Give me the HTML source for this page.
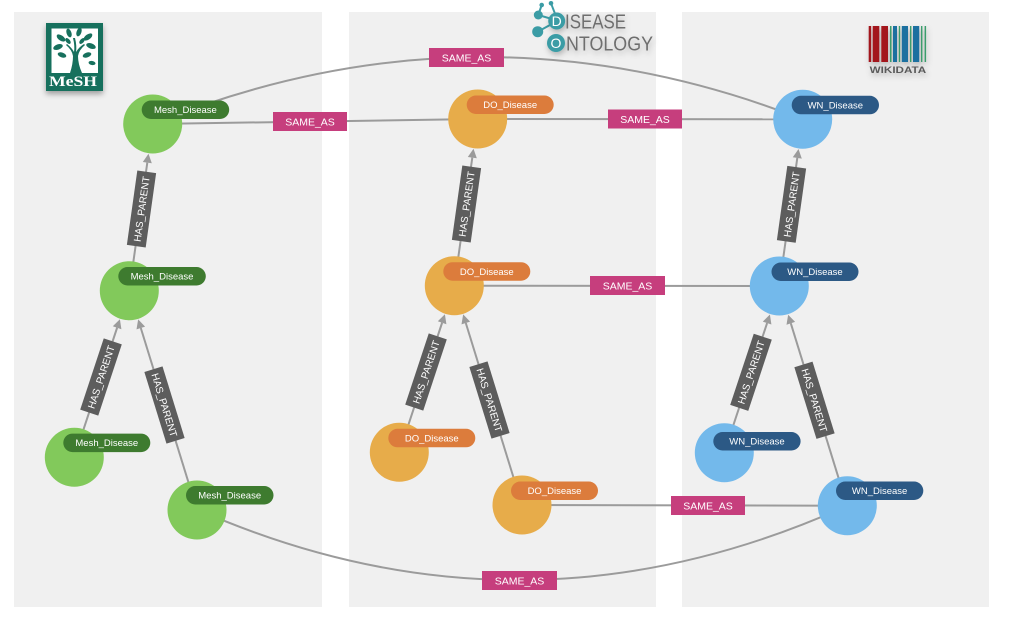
<!DOCTYPE html>
<html><head><meta charset="utf-8"><style>
html,body{margin:0;padding:0;background:#fff;}
svg{display:block;}
text{font-family:"Liberation Sans",sans-serif;}
text.serif{font-family:"Liberation Serif",serif;}
</style></head><body>
<svg width="1023" height="623" viewBox="0 0 1023 623" xmlns="http://www.w3.org/2000/svg">
<defs>
<filter id="sh" x="-30%" y="-30%" width="160%" height="170%"><feDropShadow dx="0" dy="3" stdDeviation="3" flood-color="#000" flood-opacity="0.35"/></filter>
<filter id="sh2" x="-30%" y="-30%" width="160%" height="170%"><feDropShadow dx="1" dy="3" stdDeviation="3" flood-color="#000" flood-opacity="0.25"/></filter>
</defs>
<rect width="1023" height="623" fill="#fff"/>
<!-- panels -->
<rect x="14" y="12" width="308" height="595" fill="#f0f0f0"/>
<rect x="349" y="12" width="307" height="595" fill="#f0f0f0"/>
<rect x="682" y="12" width="307" height="595" fill="#f0f0f0"/>

<!-- SAME_AS edges -->
<g stroke="#9b9b9b" stroke-width="2" fill="none">
<line x1="152.7" y1="124" x2="477.7" y2="119"/>
<line x1="477.7" y1="119" x2="802.7" y2="119.3"/>
<line x1="454.3" y1="285.7" x2="779.3" y2="286"/>
<line x1="522" y1="505" x2="847.3" y2="505.7"/>
<path d="M152.7,124 Q478,-7.5 802.7,119.3"/>
<path d="M197,509.3 Q522,652.5 847.3,505.7"/>
</g>
<g fill="#c63e7d">
<rect x="273" y="112" width="74" height="19"/>
<rect x="608" y="109.5" width="74" height="19"/>
<rect x="590" y="276" width="75" height="19"/>
<rect x="671" y="496" width="74" height="19"/>
<rect x="429" y="48" width="75" height="19"/>
<rect x="482" y="571" width="75" height="19"/>
</g>
<g fill="#fff" font-size="10.5" text-anchor="middle">
<text x="310" y="125.3">SAME_AS</text>
<text x="645" y="122.8">SAME_AS</text>
<text x="627.5" y="289.3">SAME_AS</text>
<text x="708" y="509.3">SAME_AS</text>
<text x="466.5" y="61.3">SAME_AS</text>
<text x="519.5" y="584.3">SAME_AS</text>
</g>

<!-- middle column edges -->
<g>
<g stroke="#9b9b9b" stroke-width="2">
<line x1="454.3" y1="285.7" x2="472.3" y2="157.6"/>
<line x1="399.3" y1="452.3" x2="442.1" y2="322.75"/>
<line x1="522" y1="505" x2="465.8" y2="323.0"/>
</g>
<g fill="#9b9b9b">
<polygon points="473.5,148.7 476.8,158.3 467.8,157.0"/>
<polygon points="444.9,314.2 446.4,324.2 437.8,321.3"/>
<polygon points="463.15,314.4 470.1,321.6 461.5,324.4"/>
</g>
<g transform="translate(466.5,204) rotate(-82)"><rect x="-37.5" y="-9.5" width="75" height="19" fill="#5d5d5d"/><text y="3.6" fill="#fff" font-size="10" text-anchor="middle">HAS_PARENT</text></g>
<g transform="translate(426,372) rotate(-71.7)"><rect x="-37.5" y="-9.5" width="75" height="19" fill="#5d5d5d"/><text y="3.6" fill="#fff" font-size="10" text-anchor="middle">HAS_PARENT</text></g>
<g transform="translate(489.5,400) rotate(72.85)"><rect x="-37.5" y="-9.5" width="75" height="19" fill="#5d5d5d"/><text y="3.6" fill="#fff" font-size="10" text-anchor="middle">HAS_PARENT</text></g>
</g>

<!-- left column edges -->
<g transform="translate(-325,5)">
<g stroke="#9b9b9b" stroke-width="2">
<line x1="454.3" y1="285.7" x2="472.3" y2="157.6"/>
<line x1="399.3" y1="452.3" x2="442.1" y2="322.75"/>
<line x1="522" y1="505" x2="465.8" y2="323.0"/>
</g>
<g fill="#9b9b9b">
<polygon points="473.5,148.7 476.8,158.3 467.8,157.0"/>
<polygon points="444.9,314.2 446.4,324.2 437.8,321.3"/>
<polygon points="463.15,314.4 470.1,321.6 461.5,324.4"/>
</g>
<g transform="translate(466.5,204) rotate(-82)"><rect x="-37.5" y="-9.5" width="75" height="19" fill="#5d5d5d"/><text y="3.6" fill="#fff" font-size="10" text-anchor="middle">HAS_PARENT</text></g>
<g transform="translate(426,372) rotate(-71.7)"><rect x="-37.5" y="-9.5" width="75" height="19" fill="#5d5d5d"/><text y="3.6" fill="#fff" font-size="10" text-anchor="middle">HAS_PARENT</text></g>
<g transform="translate(489.5,400) rotate(72.85)"><rect x="-37.5" y="-9.5" width="75" height="19" fill="#5d5d5d"/><text y="3.6" fill="#fff" font-size="10" text-anchor="middle">HAS_PARENT</text></g>
</g>

<!-- right column edges -->
<g transform="translate(325,0.3)">
<g stroke="#9b9b9b" stroke-width="2">
<line x1="454.3" y1="285.7" x2="472.3" y2="157.6"/>
<line x1="399.3" y1="452.3" x2="442.1" y2="322.75"/>
<line x1="522" y1="505" x2="465.8" y2="323.0"/>
</g>
<g fill="#9b9b9b">
<polygon points="473.5,148.7 476.8,158.3 467.8,157.0"/>
<polygon points="444.9,314.2 446.4,324.2 437.8,321.3"/>
<polygon points="463.15,314.4 470.1,321.6 461.5,324.4"/>
</g>
<g transform="translate(466.5,204) rotate(-82)"><rect x="-37.5" y="-9.5" width="75" height="19" fill="#5d5d5d"/><text y="3.6" fill="#fff" font-size="10" text-anchor="middle">HAS_PARENT</text></g>
<g transform="translate(426,372) rotate(-71.7)"><rect x="-37.5" y="-9.5" width="75" height="19" fill="#5d5d5d"/><text y="3.6" fill="#fff" font-size="10" text-anchor="middle">HAS_PARENT</text></g>
<g transform="translate(489.5,400) rotate(72.85)"><rect x="-37.5" y="-9.5" width="75" height="19" fill="#5d5d5d"/><text y="3.6" fill="#fff" font-size="10" text-anchor="middle">HAS_PARENT</text></g>
</g>

<!-- Nodes: middle (DO) -->
<g fill="#e7ac4a">
<circle cx="477.7" cy="119" r="29.5"/>
<circle cx="454.3" cy="285.7" r="29.5"/>
<circle cx="399.3" cy="452.3" r="29.5"/>
<circle cx="522" cy="505" r="29.5"/>
</g>
<g fill="#dc7c3c">
<rect x="466.7" y="95.5" width="87" height="18.5" rx="9.25"/>
<rect x="443.3" y="262.2" width="87" height="18.5" rx="9.25"/>
<rect x="388.3" y="428.8" width="87" height="18.5" rx="9.25"/>
<rect x="511" y="481.5" width="87" height="18.5" rx="9.25"/>
</g>
<g fill="#fff" font-size="9.5" text-anchor="middle">
<text x="510.2" y="108.1">DO_Disease</text>
<text x="486.8" y="274.8">DO_Disease</text>
<text x="431.8" y="441.4">DO_Disease</text>
<text x="554.5" y="494.1">DO_Disease</text>
</g>

<!-- Nodes: left (MeSH) -->
<g fill="#82c95b">
<circle cx="152.7" cy="124" r="29.5"/>
<circle cx="129.3" cy="290.7" r="29.5"/>
<circle cx="74.3" cy="457.3" r="29.5"/>
<circle cx="197" cy="510" r="29.5"/>
</g>
<g fill="#3e7b2f">
<rect x="141.7" y="100.5" width="87.5" height="18.5" rx="9.25"/>
<rect x="118.3" y="267" width="87.5" height="18.5" rx="9.25"/>
<rect x="63.3" y="433.6" width="87" height="18.5" rx="9.25"/>
<rect x="186" y="486" width="87.5" height="18.5" rx="9.25"/>
</g>
<g fill="#fff" font-size="9.5" text-anchor="middle">
<text x="185.4" y="113.1">Mesh_Disease</text>
<text x="162" y="279.6">Mesh_Disease</text>
<text x="106.8" y="446.2">Mesh_Disease</text>
<text x="229.7" y="498.6">Mesh_Disease</text>
</g>

<!-- Nodes: right (WN) -->
<g fill="#73b9eb">
<circle cx="802.7" cy="119.3" r="29.5"/>
<circle cx="779.3" cy="286" r="29.5"/>
<circle cx="724.3" cy="452.7" r="29.5"/>
<circle cx="847.3" cy="505.7" r="29.5"/>
</g>
<g fill="#2c5985">
<rect x="791.7" y="95.8" width="87.3" height="18.5" rx="9.25"/>
<rect x="771.5" y="262.5" width="87" height="18.5" rx="9.25"/>
<rect x="713.3" y="432" width="87.3" height="18.5" rx="9.25"/>
<rect x="836" y="481.5" width="87.3" height="18.5" rx="9.25"/>
</g>
<g fill="#fff" font-size="9.5" text-anchor="middle">
<text x="835.3" y="108.4">WN_Disease</text>
<text x="815" y="275.1">WN_Disease</text>
<text x="757" y="444.6">WN_Disease</text>
<text x="879.6" y="494.1">WN_Disease</text>
</g>

<!-- MeSH logo -->
<g filter="url(#sh)">
<rect x="46" y="23" width="57" height="68" fill="#17705d"/>
</g>
<rect x="51.5" y="28.5" width="46.5" height="44.5" fill="#fff"/>
<g fill="#17705d">
<path d="M70,73 Q73,64 73,56 Q72,50 66,45 L67,44 Q72,48 74,52 Q75,46 73,38 L75,38 Q77,46 76,52 Q79,47 84,44 L85,45 Q79,50 78,56 Q78,64 82,73 Z"/>
<ellipse cx="61" cy="38" rx="5" ry="2.6" transform="rotate(35 61 38)"/>
<ellipse cx="58" cy="47" rx="5" ry="2.6" transform="rotate(-20 58 47)"/>
<ellipse cx="62" cy="55" rx="4.5" ry="2.4" transform="rotate(20 62 55)"/>
<ellipse cx="69" cy="33" rx="4.5" ry="2.4" transform="rotate(70 69 33)"/>
<ellipse cx="79" cy="32" rx="4.5" ry="2.4" transform="rotate(-70 79 32)"/>
<ellipse cx="88" cy="37" rx="5" ry="2.6" transform="rotate(-35 88 37)"/>
<ellipse cx="91" cy="46" rx="5" ry="2.6" transform="rotate(20 91 46)"/>
<ellipse cx="87" cy="55" rx="4.5" ry="2.4" transform="rotate(-20 87 55)"/>
<ellipse cx="68" cy="41" rx="3.5" ry="2" transform="rotate(50 68 41)"/>
<ellipse cx="82" cy="41" rx="3.5" ry="2" transform="rotate(-50 82 41)"/>
<ellipse cx="92" cy="63" rx="3.5" ry="2" transform="rotate(10 92 63)"/>
</g>
<text class="serif" x="49" y="86" style="font-family:'Liberation Serif',serif;font-weight:bold;" font-size="15" fill="#fff" textLength="48" lengthAdjust="spacingAndGlyphs">MeSH</text>

<!-- Disease Ontology logo -->
<g fill="#3b9ca5" stroke="#3b9ca5" stroke-width="2">
<line x1="538.3" y1="15" x2="557.7" y2="20.7"/>
<line x1="537.7" y1="31.7" x2="557.7" y2="20.7"/>
<line x1="541.7" y1="5" x2="538.3" y2="15"/>
<line x1="551" y1="3.3" x2="557.7" y2="20.7"/>
<circle cx="538.3" cy="15" r="4.5" stroke="none"/>
<circle cx="537.7" cy="31.7" r="5.5" stroke="none"/>
<circle cx="541.7" cy="5" r="2.3" stroke="none"/>
<circle cx="551" cy="3.3" r="2.3" stroke="none"/>
</g>
<g filter="url(#sh2)">
<circle cx="556.7" cy="21" r="8.5" fill="#3b9ca5"/>
<circle cx="556" cy="43" r="9" fill="#3b9ca5"/>
<text x="556.7" y="26" font-size="14" fill="#fff" text-anchor="middle">D</text>
<text x="556" y="48" font-size="14" fill="#fff" text-anchor="middle">O</text>
<text x="565" y="28.3" font-size="20.5" fill="#6e6e6e" textLength="61" lengthAdjust="spacingAndGlyphs">ISEASE</text>
<text x="566" y="50.7" font-size="20.5" fill="#6e6e6e" textLength="87" lengthAdjust="spacingAndGlyphs">NTOLOGY</text>
</g>

<!-- Wikidata logo -->
<g filter="url(#sh2)">
<g fill="#a3141c">
<rect x="868.7" y="26" width="2.5" height="36"/>
<rect x="872.7" y="26" width="6.6" height="36"/>
<rect x="881.3" y="26" width="6.7" height="36"/>
</g>
<g fill="#3a9d6c">
<rect x="890" y="26" width="1.5" height="36"/>
<rect x="898.8" y="26" width="1.4" height="36"/>
<rect x="910" y="26" width="1.4" height="36"/>
<rect x="921" y="26" width="1.4" height="36"/>
<rect x="924.6" y="26" width="1.5" height="36"/>
</g>
<g fill="#1b6fa0">
<rect x="893" y="26" width="4" height="36"/>
<rect x="901.8" y="26" width="6.2" height="36"/>
<rect x="913" y="26" width="6.2" height="36"/>
</g>
<text x="869.7" y="72.8" font-size="9" font-weight="bold" fill="#5a5a5a" textLength="56.5" lengthAdjust="spacingAndGlyphs">WIKIDATA</text>
</g>
</svg>
</body></html>
